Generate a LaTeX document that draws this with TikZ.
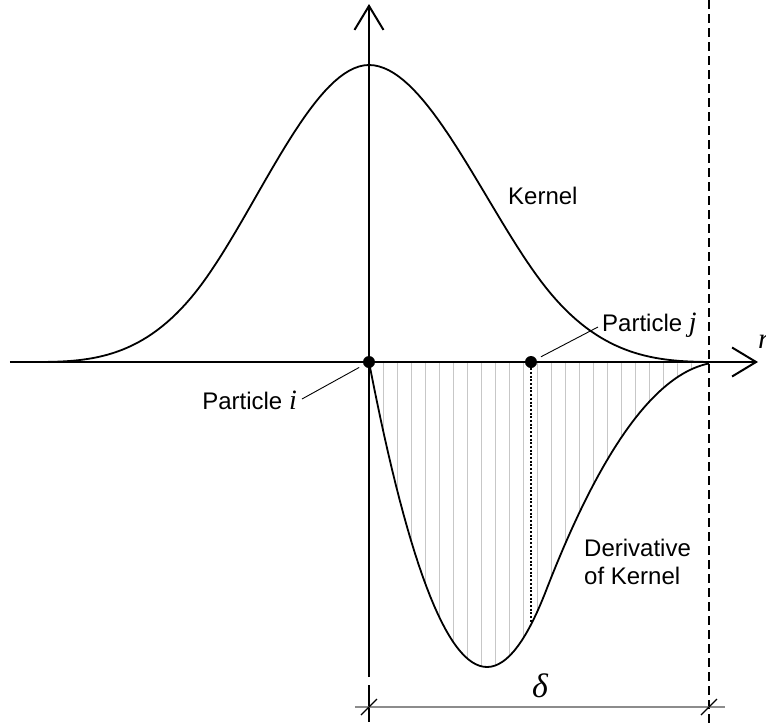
\documentclass[tikz,border=0pt]{standalone}
\usepackage{fontspec}
\setmainfont{Liberation Sans}
\newfontfamily\symfont{Liberation Serif}
\newcommand\sym[1]{{\symfont\itshape #1}}
\usetikzlibrary{arrows.meta}

\begin{document}
\begin{tikzpicture}[x=1pt,y=1pt,>={Straight Barb[length=24pt,width=29pt]},font=\fontsize{24}{28.3}\selectfont,
  declare function={ker(\q)=(\q<1)*(1-1.5*\q^2+0.75*\q^3)+(1-(\q<1))*0.25*(2-\q)^3;
    dker(\q)=(\q<1)*(3*\q-2.25*\q^2)+(1-(\q<1))*0.75*(2-\q)^2;},
  axis/.style={line width=2pt},
  curve/.style={line width=1.8pt},
  hatch/.style={black!22,line width=0.9pt},
  leader/.style={line width=0.9pt,shorten >=5pt},
  dim/.style={black!45,line width=2pt},
  dot/.style={circle,fill,inner sep=0pt,minimum size=12pt},
  lbl/.style={inner sep=0pt}]
\useasboundingbox (-369,-362) rectangle (397,362);
% hatching under the derivative
\begin{scope}
\clip plot[domain=0:340,samples=80] (\x,{-305*dker(\x/177)}) -- cycle;
\foreach \k in {1,...,24}{\draw[hatch] (14*\k,0)--(14*\k,-310);}
\end{scope}
\draw[line width=1.2pt,dash pattern=on 9pt off 5pt] (340,362)--(340,-362);
% curves
\draw[curve] plot[domain=-340:0,samples=70] (\x,{297*ker(abs(\x)/170)}) -- plot[domain=0:340,samples=70] (\x,{297*ker(\x/177)});
\draw[curve] plot[domain=0:340,samples=90] (\x,{-305*dker(\x/177)});
\draw[axis,->] (-359,0)--(389,0);
\draw[axis,->] (0,-315)--(0,358);
\node[dot] (pi) at (0,0) {};
\node[dot] (pj) at (162,0) {};
\coordinate (jfoot) at (162,{-305*dker(162/177)});
\draw[line width=1.8pt,dash pattern=on 2pt off 1.7pt] (pj)--(jfoot);
% labels
\node[lbl,anchor=base east] (li) at (-72,-47) {Particle {\fontsize{28}{28}\selectfont\sym{i}}};
\node[lbl,anchor=base west] (lj) at (233,31) {Particle {\fontsize{28}{28}\selectfont\sym{j}}};
\draw[leader] ([shift={(5,10)}]li.base east) -- (pi);
\draw[leader] ([shift={(-4,4)}]lj.base west) -- (pj);
\node[lbl,anchor=base west] (lk) at (139,158) {Kernel};
\node[lbl,anchor=north west,align=left] (ld) at (215,-177) {Derivative\\of Kernel};
\node[lbl,anchor=base west,font=\fontsize{29}{29}\selectfont] (lr) at (389,14) {\sym{r}};
% dimension delta
\coordinate (dimL) at (0,-345); \coordinate (dimR) at (340,-345);
\draw[line width=1.3pt] (0,-323)--(0,-360);
\draw[dim] ([xshift=-14pt]dimL) -- ([xshift=16pt]dimR);
\foreach \c in {dimL,dimR}{\draw[line width=1.2pt] ([shift={(-8,-8)}]\c)--([shift={(8,8)}]\c);}
\node[font=\fontsize{34}{34}\selectfont] (dl) at (171,-324) {\sym{δ}};
\end{tikzpicture}
\end{document}
